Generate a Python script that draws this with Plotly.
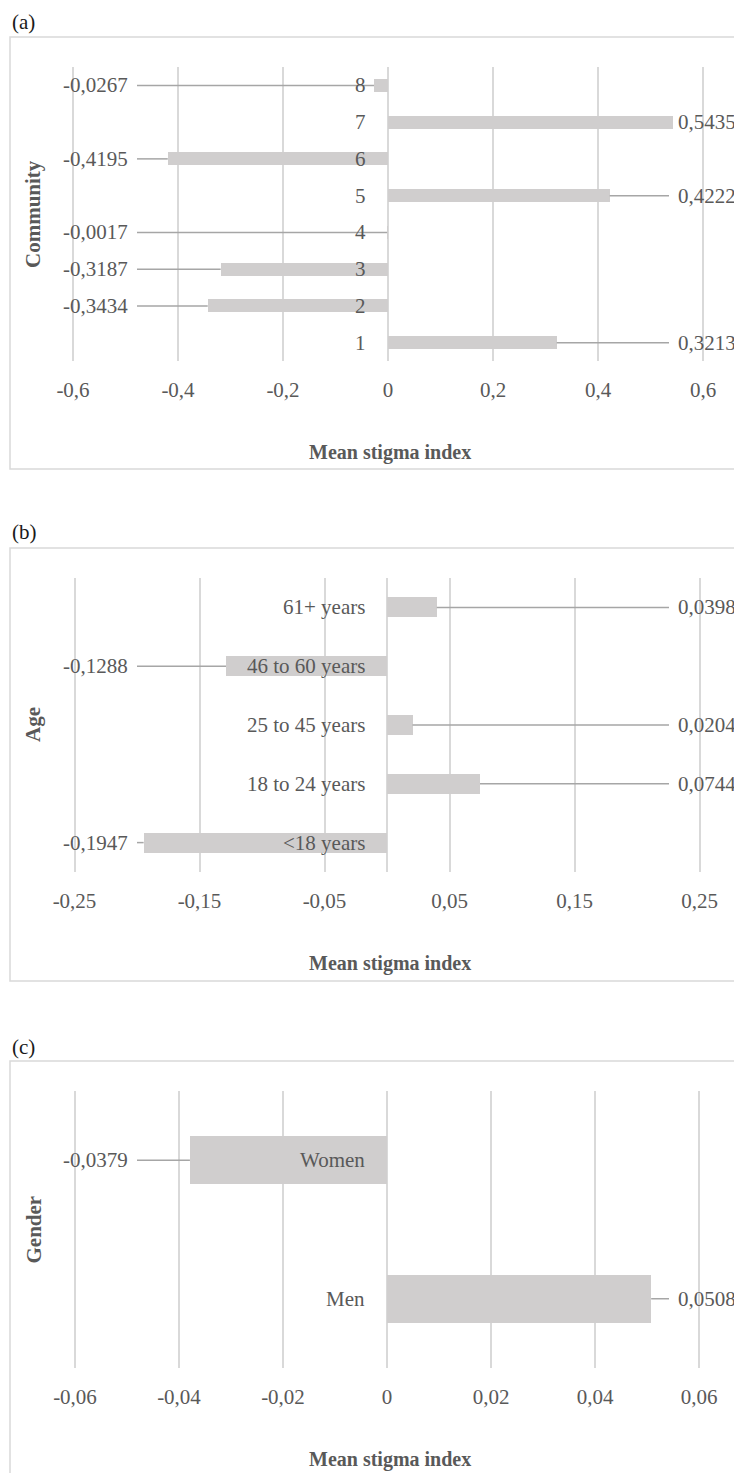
import plotly.graph_objects as go

# ---------------- data ----------------
community_cats = ["1", "2", "3", "4", "5", "6", "7", "8"]
community_vals = [0.3213, -0.3434, -0.3187, -0.0017, 0.4222, -0.4195, 0.5435, -0.0267]
community_ticks = [-0.6, -0.4, -0.2, 0, 0.2, 0.4, 0.6]
community_ticktext = ["-0,6", "-0,4", "-0,2", "0", "0,2", "0,4", "0,6"]

age_cats = ["<18 years", "18 to 24 years", "25 to 45 years", "46 to 60 years", "61+ years"]
age_vals = [-0.1947, 0.0744, 0.0204, -0.1288, 0.0398]
age_ticks = [-0.25, -0.15, -0.05, 0.05, 0.15, 0.25]
age_ticktext = ["-0,25", "-0,15", "-0,05", "0,05", "0,15", "0,25"]

gender_cats = ["Men", "Women"]
gender_vals = [0.0508, -0.0379]
gender_ticks = [-0.06, -0.04, -0.02, 0, 0.02, 0.04, 0.06]
gender_ticktext = ["-0,06", "-0,04", "-0,02", "0", "0,02", "0,04", "0,06"]

panel_letters = ["(a)", "(b)", "(c)"]
y_titles = ["Community", "Age", "Gender"]
x_title = "Mean stigma index"

# ---------------- layout geometry (page pixels) ----------------
PAGE_W, PAGE_H = 742, 1473
OFF = 8                      # default body margin of the html page
W, H = PAGE_W - OFF, PAGE_H - OFF
FONT = "Liberation Serif, Times New Roman, serif"
TXT = "#595959"
GRID = "#D9D9D9"
BAR = "#D0CECE"
LEADER = "#A6A6A6"

panels = [
    dict(cats=community_cats, vals=community_vals, ticks=community_ticks, ticktext=community_ticktext,
         zero=388, ppu=525, top=67, bottom=361, bw=0.354, box=(37, 469), label_y=22, title_y=452),
    dict(cats=age_cats, vals=age_vals, ticks=age_ticks, ticktext=age_ticktext,
         zero=387, ppu=1250, top=578, bottom=872, bw=0.34, box=(548, 981), label_y=532, title_y=963),
    dict(cats=gender_cats, vals=gender_vals, ticks=gender_ticks, ticktext=gender_ticktext,
         zero=387, ppu=5200, top=1091, bottom=1368, bw=0.35, box=(1061, 1490), label_y=1047, title_y=1459),
]

NEG_LABEL_PX = 129
POS_LABEL_PX = 677
NEG_LEADER_PX = 137
POS_LEADER_PX = 669


def fmt(v):
    return f"{v:.4f}".replace(".", ",")


def pxx(px):  # page x pixel -> paper x
    return (px - OFF) / W


def pyy(py):  # page y pixel -> paper y
    return 1 - (py - OFF) / H


fig = go.Figure()
annotations = []
shapes = []

for i, p in enumerate(panels):
    sfx = "" if i == 0 else str(i + 1)
    xa, ya = "x" + sfx, "y" + sfx
    to_data = lambda px, p=p: (px - p["zero"]) / p["ppu"]

    fig.add_trace(go.Bar(
        x=p["vals"], y=p["cats"], orientation="h", width=p["bw"],
        marker=dict(color=BAR, line=dict(width=0)),
        xaxis=xa, yaxis=ya, showlegend=False, hoverinfo="x+y",
    ))

    # leader lines
    lx, ly = [], []
    for c, v in zip(p["cats"], p["vals"]):
        end_px = p["zero"] + v * p["ppu"]
        if v < 0 and end_px > NEG_LEADER_PX + 2:
            lx += [to_data(NEG_LEADER_PX), v, None]
            ly += [c, c, None]
        elif v >= 0 and end_px < POS_LEADER_PX - 2:
            lx += [v, to_data(POS_LEADER_PX), None]
            ly += [c, c, None]
    fig.add_trace(go.Scatter(
        x=lx, y=ly, mode="lines", line=dict(color=LEADER, width=1.5),
        xaxis=xa, yaxis=ya, showlegend=False, hoverinfo="skip",
    ))

    for j, (c, v) in enumerate(zip(p["cats"], p["vals"])):
        # value labels
        annotations.append(dict(
            x=to_data(NEG_LABEL_PX if v < 0 else POS_LABEL_PX), y=j, xref=xa, yref=ya,
            text=fmt(v), showarrow=False, xanchor="right" if v < 0 else "left", yanchor="middle",
            font=dict(family=FONT, size=21, color=TXT), borderpad=0,
        ))
        # category labels
        annotations.append(dict(
            x=0, y=j, xref=xa, yref=ya, text=c, showarrow=False,
            xanchor="right", yanchor="middle", xshift=-20,
            font=dict(family=FONT, size=21, color=TXT),
        ))

    fig.update_layout(**{
        ("xaxis" + sfx): dict(
            domain=[0, 1], range=[to_data(OFF), to_data(PAGE_W)], anchor=ya,
            tickvals=p["ticks"], ticktext=p["ticktext"], showgrid=True, gridcolor=GRID, gridwidth=1.5,
            zeroline=True, zerolinecolor=GRID, zerolinewidth=1.5, showline=False, ticks="",
            ticklabelstandoff=14, tickfont=dict(family=FONT, size=21, color=TXT), fixedrange=True,
        ),
        ("yaxis" + sfx): dict(
            domain=[pyy(p["bottom"]), pyy(p["top"])], anchor=xa, type="category",
            categoryorder="array", categoryarray=p["cats"], range=[-0.5, len(p["cats"]) - 0.5],
            showticklabels=False, showgrid=False, zeroline=False, showline=False, ticks="", fixedrange=True,
        ),
    })

    # panel letter
    annotations.append(dict(
        x=pxx(10), y=pyy(p["label_y"]), xref="paper", yref="paper", text=panel_letters[i],
        showarrow=False, xanchor="left", yanchor="middle",
        font=dict(family=FONT, size=21, color="#1a1a1a"),
    ))
    # x title
    annotations.append(dict(
        x=pxx(390), y=pyy(p["title_y"]), xref="paper", yref="paper", text="<b>" + x_title + "</b>",
        showarrow=False, xanchor="center", yanchor="middle",
        font=dict(family=FONT, size=20, color=TXT),
    ))
    # y title
    annotations.append(dict(
        x=pxx(33), y=pyy((p["top"] + p["bottom"]) / 2), xref="paper", yref="paper",
        text="<b>" + y_titles[i] + "</b>", showarrow=False, textangle=-90,
        xanchor="center", yanchor="middle",
        font=dict(family=FONT, size=21, color=TXT),
    ))
    # border box
    shapes.append(dict(
        type="rect", xref="paper", yref="paper", x0=pxx(10), x1=pxx(760),
        y0=pyy(p["box"][1]), y1=pyy(p["box"][0]), line=dict(color=GRID, width=1.5),
        fillcolor="rgba(0,0,0,0)", layer="below",
    ))

fig.update_layout(
    width=W, height=H, margin=dict(l=0, r=0, t=0, b=0),
    paper_bgcolor="white", plot_bgcolor="rgba(0,0,0,0)",
    annotations=annotations, shapes=shapes, bargap=0, showlegend=False,
)

fig.write_html("out.html")
